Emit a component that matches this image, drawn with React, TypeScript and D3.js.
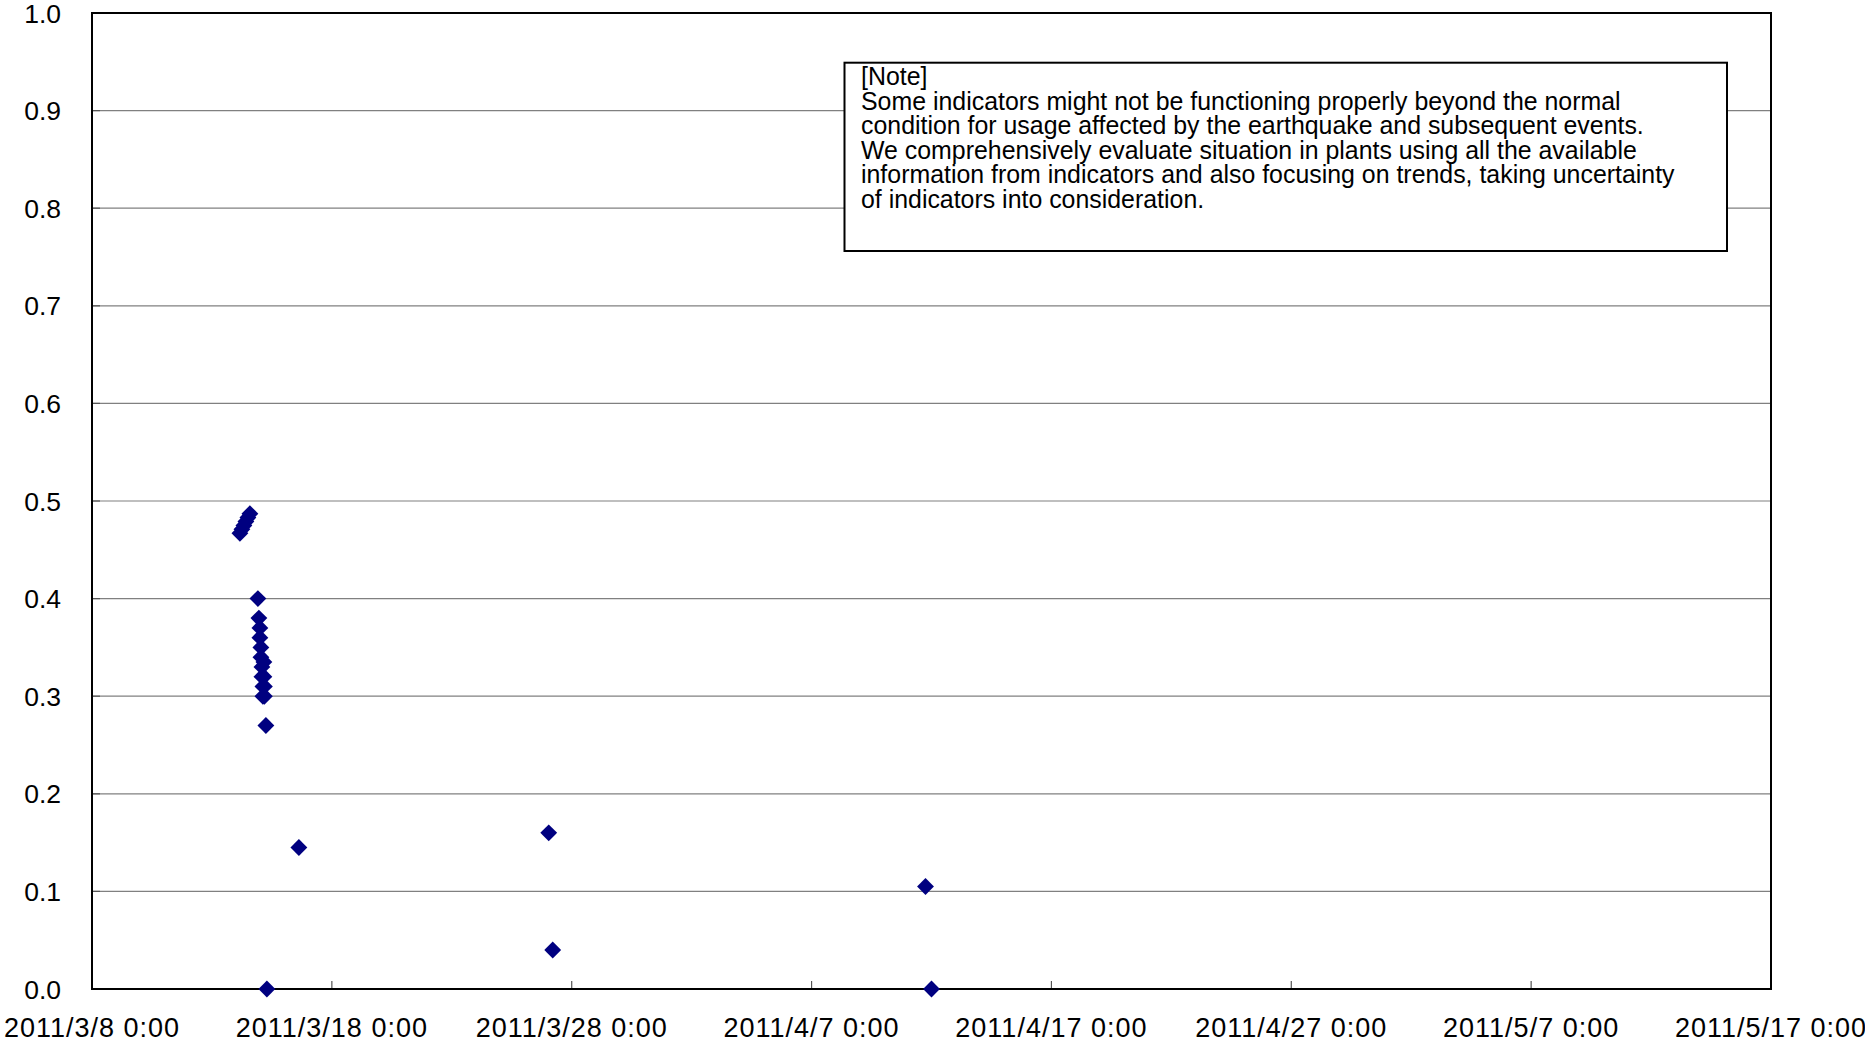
import React from "react";
import * as d3 from "d3";

// Observation times (UTC-style timestamps) and indicator values
const times = [
  "2011-03-14T04:00", "2011-03-14T06:00", "2011-03-14T08:00", "2011-03-14T10:00",
  "2011-03-14T12:00", "2011-03-14T14:00",
  "2011-03-14T22:00", "2011-03-14T23:00", "2011-03-15T00:00", "2011-03-15T00:00",
  "2011-03-15T01:00", "2011-03-15T01:00", "2011-03-15T02:00", "2011-03-15T02:00",
  "2011-03-15T03:00", "2011-03-15T03:00",
  "2011-03-15T04:00", "2011-03-15T04:00", "2011-03-15T04:30", "2011-03-15T04:30",
  "2011-03-15T06:00", "2011-03-15T07:00",
  "2011-03-16T15:00",
  "2011-03-27T01:00", "2011-03-27T05:00",
  "2011-04-11T18:00", "2011-04-12T00:00",
];
const values = [
  0.467, 0.471, 0.475, 0.479,
  0.483, 0.487,
  0.4, 0.38, 0.37, 0.36,
  0.35, 0.34, 0.33, 0.32,
  0.31, 0.3,
  0.335, 0.32, 0.31, 0.3,
  0.27, 0.0,
  0.145,
  0.16, 0.04,
  0.105, 0.0,
];

const xTickDates = [
  "2011-03-08T00:00", "2011-03-18T00:00", "2011-03-28T00:00", "2011-04-07T00:00",
  "2011-04-17T00:00", "2011-04-27T00:00", "2011-05-07T00:00", "2011-05-17T00:00",
];
const yTicks = [0, 0.1, 0.2, 0.3, 0.4, 0.5, 0.6, 0.7, 0.8, 0.9, 1.0];

const noteLines = [
  "[Note]",
  "Some indicators might not be functioning properly beyond the normal",
  "condition for usage affected by the earthquake and subsequent events.",
  "We comprehensively evaluate situation in plants using all the available",
  "information from indicators and also focusing on trends, taking uncertainty",
  "of indicators into consideration.",
];

const W = 1865;
const H = 1041;
const plot = { left: 92, top: 13, right: 1771, bottom: 989 };
const FONT = "'Liberation Sans', Arial, sans-serif";

const parse = d3.utcParse("%Y-%m-%dT%H:%M");

export default function App() {
  const x = d3
    .scaleUtc()
    .domain([parse(xTickDates[0])!, parse(xTickDates[xTickDates.length - 1])!])
    .range([plot.left, plot.right]);
  const y = d3.scaleLinear().domain([0, 1]).range([plot.bottom, plot.top]);

  const points = times.map((t, i) => ({ t: parse(t)!, v: values[i] }));
  const diamond = d3.symbol(d3.symbolSquare, 142)()!;
  const fmtX = (s: string) => {
    const d = parse(s)!;
    return `${d.getUTCFullYear()}/${d.getUTCMonth() + 1}/${d.getUTCDate()} 0:00`;
  };

  return (
    <svg
      width={W}
      height={H}
      style={{ position: "absolute", left: 0, top: 0, background: "#fff" }}
      fontFamily={FONT}
    >
      {/* horizontal gridlines */}
      {yTicks
        .filter((v) => v > 0 && v < 1)
        .map((v) => (
          <line
            key={`g${v}`}
            x1={plot.left}
            x2={plot.right}
            y1={y(v)}
            y2={y(v)}
            stroke="#808080"
            strokeWidth={1.2}
          />
        ))}
      {/* y ticks (inward) */}
      {yTicks.map((v) => (
        <line
          key={`yt${v}`}
          x1={plot.left}
          x2={plot.left + 8}
          y1={y(v)}
          y2={y(v)}
          stroke="#555"
          strokeWidth={1.2}
        />
      ))}
      {/* x ticks (inward) */}
      {xTickDates.slice(1, -1).map((s) => (
        <line
          key={`xt${s}`}
          x1={x(parse(s)!)}
          x2={x(parse(s)!)}
          y1={plot.bottom}
          y2={plot.bottom - 8}
          stroke="#555"
          strokeWidth={1.2}
        />
      ))}
      {/* plot frame */}
      <rect
        x={plot.left}
        y={plot.top}
        width={plot.right - plot.left}
        height={plot.bottom - plot.top}
        fill="none"
        stroke="#000"
        strokeWidth={2}
      />
      {/* note box */}
      <rect x={844.5} y={62.7} width={882.5} height={188.3} fill="#fff" stroke="#000" strokeWidth={2} />
      {noteLines.map((line, i) => (
        <text key={i} x={861} y={85 + i * 24.6} fontSize={24.9} fill="#000">
          {line}
        </text>
      ))}
      {/* y tick labels */}
      {yTicks.map((v) => (
        <text
          key={`yl${v}`}
          x={61}
          y={y(v)}
          dy="0.36em"
          textAnchor="end"
          fontSize={26.5}
          fill="#000"
        >
          {v.toFixed(1)}
        </text>
      ))}
      {/* x tick labels */}
      {xTickDates.map((s) => (
        <text
          key={`xl${s}`}
          x={x(parse(s)!)}
          y={1036.5}
          textAnchor="middle"
          fontSize={27}
          letterSpacing={1}
          fill="#000"
        >
          {fmtX(s)}
        </text>
      ))}
      {/* data markers */}
      {points.map((p, i) => (
        <path
          key={i}
          d={diamond}
          transform={`translate(${x(p.t)},${y(p.v)}) rotate(45)`}
          fill="#000080"
        />
      ))}
    </svg>
  );
}
